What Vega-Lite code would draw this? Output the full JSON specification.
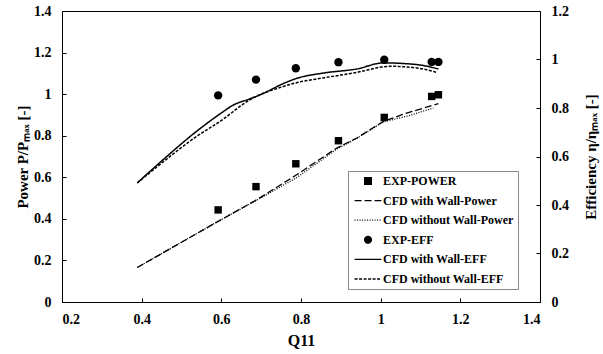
{
  "$schema": "https://vega.github.io/schema/vega-lite/v6.json",
  "width": 478,
  "height": 291,
  "autosize": {"type": "none"},
  "padding": {"left": 62, "top": 11, "right": 63, "bottom": 52},
  "background": "white",
  "config": {
    "view": {"stroke": "black", "strokeWidth": 1},
    "font": "Liberation Serif",
    "axis": {
      "grid": false, "domainColor": "black", "domainWidth": 1, "tickColor": "black",
      "labelColor": "black", "titleColor": "black",
      "labelFont": "Liberation Serif", "titleFont": "Liberation Serif",
      "labelFontWeight": "bold", "titleFontWeight": "bold",
      "labelFontSize": 14, "titleFontSize": 15, "tickSize": -4, "labelPadding": 15
    },
    "legend": {
      "orient": "none", "legendX": 286, "legendY": 160, "title": null,
      "padding": 4, "strokeColor": "#888888", "fillColor": "white",
      "labelFont": "Liberation Serif", "labelFontWeight": "bold", "labelFontSize": 12, "labelColor": "black",
      "symbolSize": 45, "symbolOffset": 10, "labelOffset": 9, "rowPadding": 7.6,
      "symbolFillColor": "black", "symbolStrokeColor": "black", "symbolStrokeWidth": 1.3
    }
  },
  "datasets": {
    "d": [
      {"series": "EXP-POWER", "q": 0.592, "value": 0.443},
      {"series": "EXP-POWER", "q": 0.687, "value": 0.555},
      {"series": "EXP-POWER", "q": 0.787, "value": 0.665},
      {"series": "EXP-POWER", "q": 0.894, "value": 0.776},
      {"series": "EXP-POWER", "q": 1.009, "value": 0.888},
      {"series": "EXP-POWER", "q": 1.128, "value": 0.989},
      {"series": "EXP-POWER", "q": 1.145, "value": 0.997},
      {"series": "CFD with Wall-Power", "q": 0.389, "value": 0.166},
      {"series": "CFD with Wall-Power", "q": 0.592, "value": 0.388},
      {"series": "CFD with Wall-Power", "q": 0.689, "value": 0.492},
      {"series": "CFD with Wall-Power", "q": 0.789, "value": 0.612},
      {"series": "CFD with Wall-Power", "q": 0.890, "value": 0.741},
      {"series": "CFD with Wall-Power", "q": 0.940, "value": 0.789},
      {"series": "CFD with Wall-Power", "q": 1.007, "value": 0.869},
      {"series": "CFD with Wall-Power", "q": 1.065, "value": 0.909},
      {"series": "CFD with Wall-Power", "q": 1.145, "value": 0.954},
      {"series": "CFD without Wall-Power", "q": 0.389, "value": 0.166},
      {"series": "CFD without Wall-Power", "q": 0.592, "value": 0.388},
      {"series": "CFD without Wall-Power", "q": 0.689, "value": 0.490},
      {"series": "CFD without Wall-Power", "q": 0.789, "value": 0.598},
      {"series": "CFD without Wall-Power", "q": 0.890, "value": 0.736},
      {"series": "CFD without Wall-Power", "q": 0.940, "value": 0.787},
      {"series": "CFD without Wall-Power", "q": 1.007, "value": 0.867},
      {"series": "CFD without Wall-Power", "q": 1.065, "value": 0.893},
      {"series": "CFD without Wall-Power", "q": 1.132, "value": 0.933},
      {"series": "EXP-EFF", "q": 0.592, "value": 0.852},
      {"series": "EXP-EFF", "q": 0.687, "value": 0.917},
      {"series": "EXP-EFF", "q": 0.787, "value": 0.964},
      {"series": "EXP-EFF", "q": 0.894, "value": 0.989},
      {"series": "EXP-EFF", "q": 1.009, "value": 0.999},
      {"series": "EXP-EFF", "q": 1.128, "value": 0.990},
      {"series": "EXP-EFF", "q": 1.145, "value": 0.990},
      {"series": "CFD with Wall-EFF", "q": 0.389, "value": 0.491},
      {"series": "CFD with Wall-EFF", "q": 0.454, "value": 0.587},
      {"series": "CFD with Wall-EFF", "q": 0.538, "value": 0.704},
      {"series": "CFD with Wall-EFF", "q": 0.597, "value": 0.776},
      {"series": "CFD with Wall-EFF", "q": 0.630, "value": 0.812},
      {"series": "CFD with Wall-EFF", "q": 0.672, "value": 0.838},
      {"series": "CFD with Wall-EFF", "q": 0.705, "value": 0.860},
      {"series": "CFD with Wall-EFF", "q": 0.756, "value": 0.901},
      {"series": "CFD with Wall-EFF", "q": 0.793, "value": 0.924},
      {"series": "CFD with Wall-EFF", "q": 0.856, "value": 0.944},
      {"series": "CFD with Wall-EFF", "q": 0.940, "value": 0.961},
      {"series": "CFD with Wall-EFF", "q": 1.007, "value": 0.986},
      {"series": "CFD with Wall-EFF", "q": 1.091, "value": 0.979},
      {"series": "CFD with Wall-EFF", "q": 1.145, "value": 0.961},
      {"series": "CFD without Wall-EFF", "q": 0.389, "value": 0.491},
      {"series": "CFD without Wall-EFF", "q": 0.454, "value": 0.578},
      {"series": "CFD without Wall-EFF", "q": 0.538, "value": 0.683},
      {"series": "CFD without Wall-EFF", "q": 0.597, "value": 0.745},
      {"series": "CFD without Wall-EFF", "q": 0.672, "value": 0.834},
      {"series": "CFD without Wall-EFF", "q": 0.756, "value": 0.889},
      {"series": "CFD without Wall-EFF", "q": 0.793, "value": 0.906},
      {"series": "CFD without Wall-EFF", "q": 0.856, "value": 0.924},
      {"series": "CFD without Wall-EFF", "q": 0.940, "value": 0.947},
      {"series": "CFD without Wall-EFF", "q": 1.024, "value": 0.972},
      {"series": "CFD without Wall-EFF", "q": 1.091, "value": 0.965},
      {"series": "CFD without Wall-EFF", "q": 1.141, "value": 0.947}
    ]
  },
  "data": {"name": "d"},
  "layer": [
    {
      "layer": [
        {
          "transform": [{"filter": "datum.series === 'EXP-POWER'"}],
          "mark": {"type": "point", "filled": true, "size": 55, "color": "black", "opacity": 1},
          "encoding": {
            "x": {"field": "q", "type": "quantitative", "scale": {"domain": [0.2, 1.4], "nice": false, "zero": false},
              "axis": {"values": [0.2, 0.4, 0.6, 0.8, 1, 1.2, 1.4], "format": "~g", "title": "Q11", "titleFontSize": 16, "titleY": 43, "titleBaseline": "alphabetic", "labelPadding": 14, "labelFont": "Liberation Serif"}},
            "y": {"field": "value", "type": "quantitative", "scale": {"domain": [0, 1.4], "nice": false},
              "axis": {"orient": "left", "values": [0, 0.2, 0.4, 0.6, 0.8, 1, 1.2, 1.4], "format": "~g", "title": "Power P/Pₘₐₓ [-]", "titleAngle": -90, "titleX": -40, "titleY": 145.5, "titleBaseline": "middle", "titleAlign": "center", "labelFont": "Liberation Serif"}},
            "shape": {"field": "series", "type": "nominal",
              "scale": {"domain": ["EXP-POWER", "CFD with Wall-Power", "CFD without Wall-Power", "EXP-EFF", "CFD with Wall-EFF", "CFD without Wall-EFF"],
                "range": ["square", "M-4,0H4", "M-4,0H4", "circle", "M-4,0H4", "M-4,0H4"]},
              "legend": {"encode": {"symbols": {"update": {"stroke": {"value": "black"}, "fill": {"value": "black"}, "strokeWidth": {"value": 1.3}, "opacity": {"value": 1}}}}}}
          }
        },
        {
          "transform": [{"filter": "datum.series === 'CFD with Wall-Power' || datum.series === 'CFD without Wall-Power'"}],
          "mark": {"type": "line", "color": "black", "strokeWidth": 1.3},
          "encoding": {
            "x": {"field": "q", "type": "quantitative"},
            "y": {"field": "value", "type": "quantitative"},
            "strokeDash": {"field": "series", "type": "nominal",
              "scale": {"domain": ["EXP-POWER", "CFD with Wall-Power", "CFD without Wall-Power", "EXP-EFF", "CFD with Wall-EFF", "CFD without Wall-EFF"],
                "range": [[1, 0], [7, 3], [1, 1.5], [1, 0], [1, 0], [3, 1.5]]},
              "legend": {"encode": {"symbols": {"update": {"stroke": {"value": "black"}, "fill": {"value": "black"}, "strokeWidth": {"value": 1.3}, "opacity": {"value": 1}}}}}}
          }
        }
      ]
    },
    {
      "layer": [
        {
          "transform": [{"filter": "datum.series === 'EXP-EFF'"}],
          "mark": {"type": "point", "filled": true, "size": 70, "color": "black", "opacity": 1},
          "encoding": {
            "x": {"field": "q", "type": "quantitative"},
            "y": {"field": "value", "type": "quantitative", "scale": {"domain": [0, 1.2], "nice": false},
              "axis": {"orient": "right", "values": [0, 0.2, 0.4, 0.6, 0.8, 1, 1.2], "format": "~g", "title": "Efficiency η/ηₘₐₓ [-]", "titleAngle": -90, "titleX": 50, "titleY": 145.5, "titleBaseline": "middle", "titleAlign": "center", "labelFont": "Liberation Serif"}},
            "shape": {"field": "series", "type": "nominal"}
          }
        },
        {
          "transform": [{"filter": "datum.series === 'CFD with Wall-EFF' || datum.series === 'CFD without Wall-EFF'"}],
          "mark": {"type": "line", "color": "black", "strokeWidth": 1.5, "interpolate": "monotone"},
          "encoding": {
            "x": {"field": "q", "type": "quantitative"},
            "y": {"field": "value", "type": "quantitative"},
            "strokeDash": {"field": "series", "type": "nominal"}
          }
        }
      ]
    }
  ],
  "resolve": {"scale": {"y": "independent"}}
}
